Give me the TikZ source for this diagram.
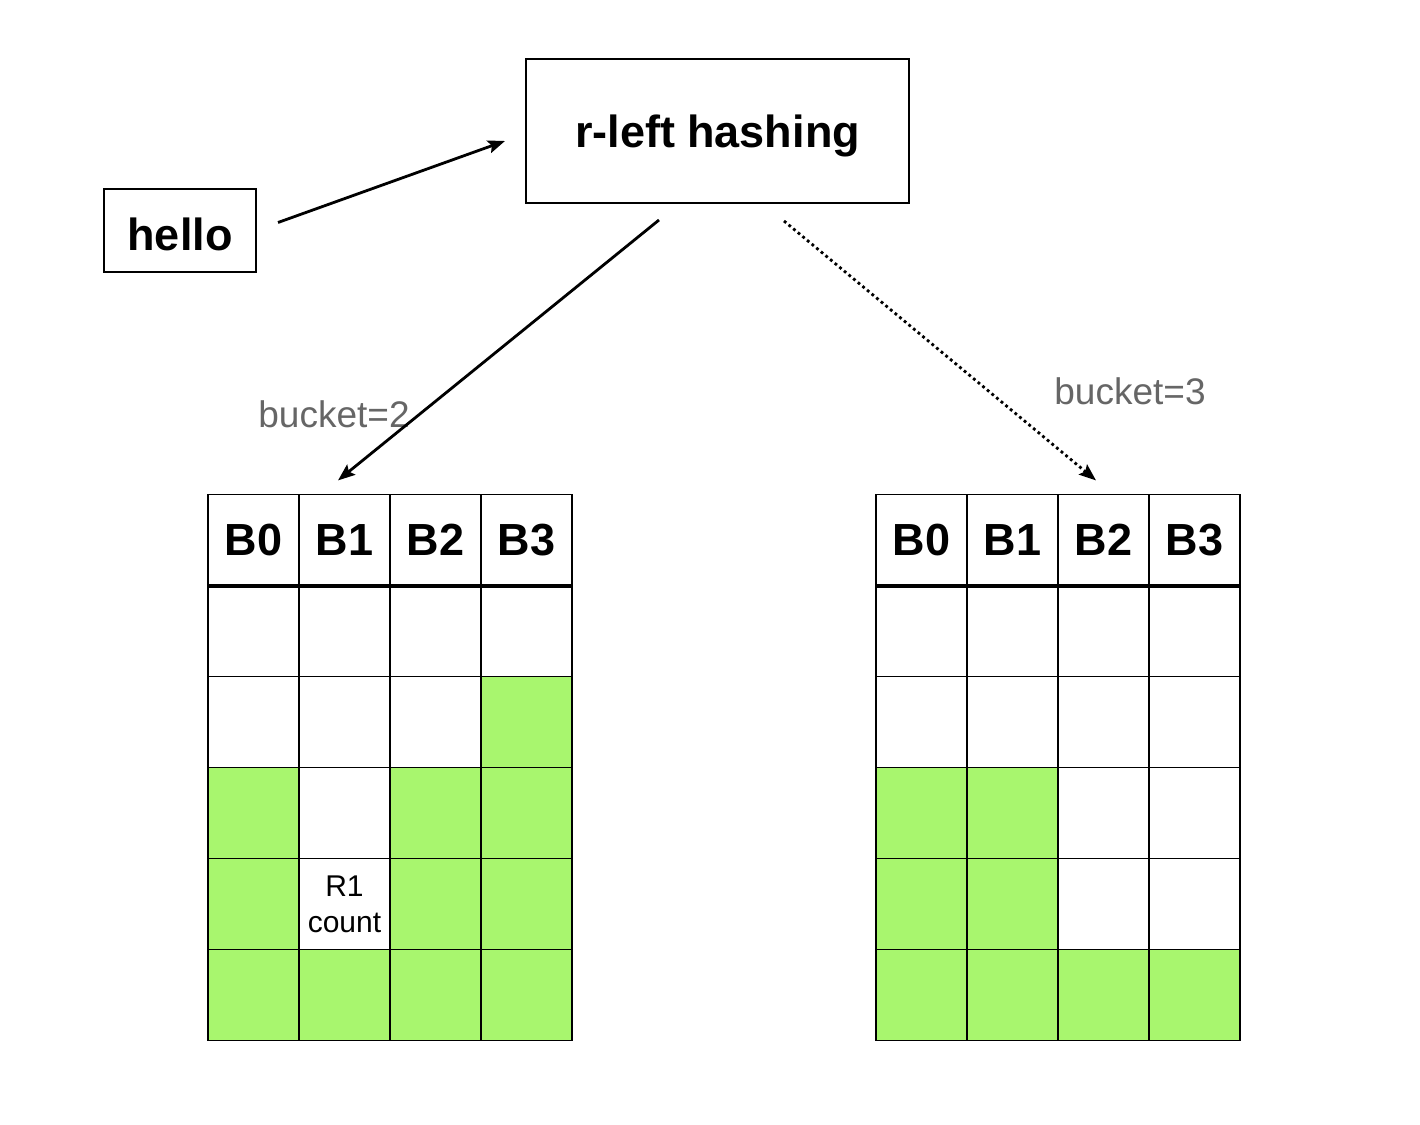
\documentclass[tikz,border=0pt]{standalone}
\usepackage{fontspec}
\setmainfont{Liberation Sans}
\usetikzlibrary{arrows.meta}
\definecolor{cellgreen}{RGB}{168,246,110}
\definecolor{labelgray}{RGB}{102,102,102}
\begin{document}
\begin{tikzpicture}[x=1pt,y=-1pt,
  cell/.style={draw=black, line width=1.2pt, minimum width=91pt, minimum height=91pt, inner sep=0pt, anchor=center},
  hdr/.style={font=\fontsize{45}{54}\selectfont\bfseries},
  box/.style={draw=black, line width=2pt, inner sep=0pt},
  arr/.style={line width=2.8pt, -{Stealth[length=17pt,width=13pt,inset=3pt]}},
  lbl/.style={text=labelgray, font=\fontsize{37}{44}\selectfont, inner sep=0pt},
  small/.style={font=\fontsize{30}{36}\selectfont, align=center, inner sep=0pt}]
\useasboundingbox[fill=white] (0,0) rectangle (1420,1124);
% boxes
\node[box, minimum width=383pt, minimum height=144pt] (hash) at (717.5,131) {};
\node[hdr, inner sep=0pt] (hasht) at (717.5,136) {r-left hashing};
\node[box, minimum width=152pt, minimum height=83pt] (hello) at (180,230.5) {};
\node[hdr, inner sep=0pt] (hellot) at (180,234) {hello};
% left table
\foreach \c/\t in {0/B0,1/B1,2/B2,3/B3}
  \node[cell, hdr, fill=white] (L-0-\c) at (253.5+91*\c, 540) {\t};
\foreach \r/\c/\f in {1/0/white,1/1/white,1/2/white,1/3/white,
                      2/0/white,2/1/white,2/2/white,2/3/cellgreen,
                      3/0/cellgreen,3/1/white,3/2/cellgreen,3/3/cellgreen,
                      4/0/cellgreen,4/1/white,4/2/cellgreen,4/3/cellgreen,
                      5/0/cellgreen,5/1/cellgreen,5/2/cellgreen,5/3/cellgreen}
  \node[cell, fill=\f] (L-\r-\c) at (253.5+91*\c, 540+91*\r) {};
\node[small] (rc) at (L-4-1) {R1\\count};
% right table
\foreach \c/\t in {0/B0,1/B1,2/B2,3/B3}
  \node[cell, hdr, fill=white] (R-0-\c) at (921.5+91*\c, 540) {\t};
\foreach \r/\c/\f in {1/0/white,1/1/white,1/2/white,1/3/white,
                      2/0/white,2/1/white,2/2/white,2/3/white,
                      3/0/cellgreen,3/1/cellgreen,3/2/white,3/3/white,
                      4/0/cellgreen,4/1/cellgreen,4/2/white,4/3/white,
                      5/0/cellgreen,5/1/cellgreen,5/2/cellgreen,5/3/cellgreen}
  \node[cell, fill=\f] (R-\r-\c) at (921.5+91*\c, 540+91*\r) {};
% header separators
\draw[line width=3.5pt] (L-0-0.south west) -- (L-0-3.south east);
\draw[line width=3.5pt] (R-0-0.south west) -- (R-0-3.south east);
% labels
\node[lbl] (b2) at (334,414) {bucket=2};
\node[lbl] (b3) at (1130,391) {bucket=3};
% arrows
\draw[arr] ([shift={(21,-8)}]hello.east) -- ([shift={(-20,10)}]hash.west);
\draw[arr] ([shift={(-58.5,16)}]hash.south) -- ([shift={(-6.5,-13.5)}]L-0-1.north);
\draw[arr, dash pattern=on 2.8pt off 3.2pt] ([shift={(66.5,17)}]hash.south) -- ([shift={(-7.5,-13.5)}]R-0-2.north);
\end{tikzpicture}
\end{document}
